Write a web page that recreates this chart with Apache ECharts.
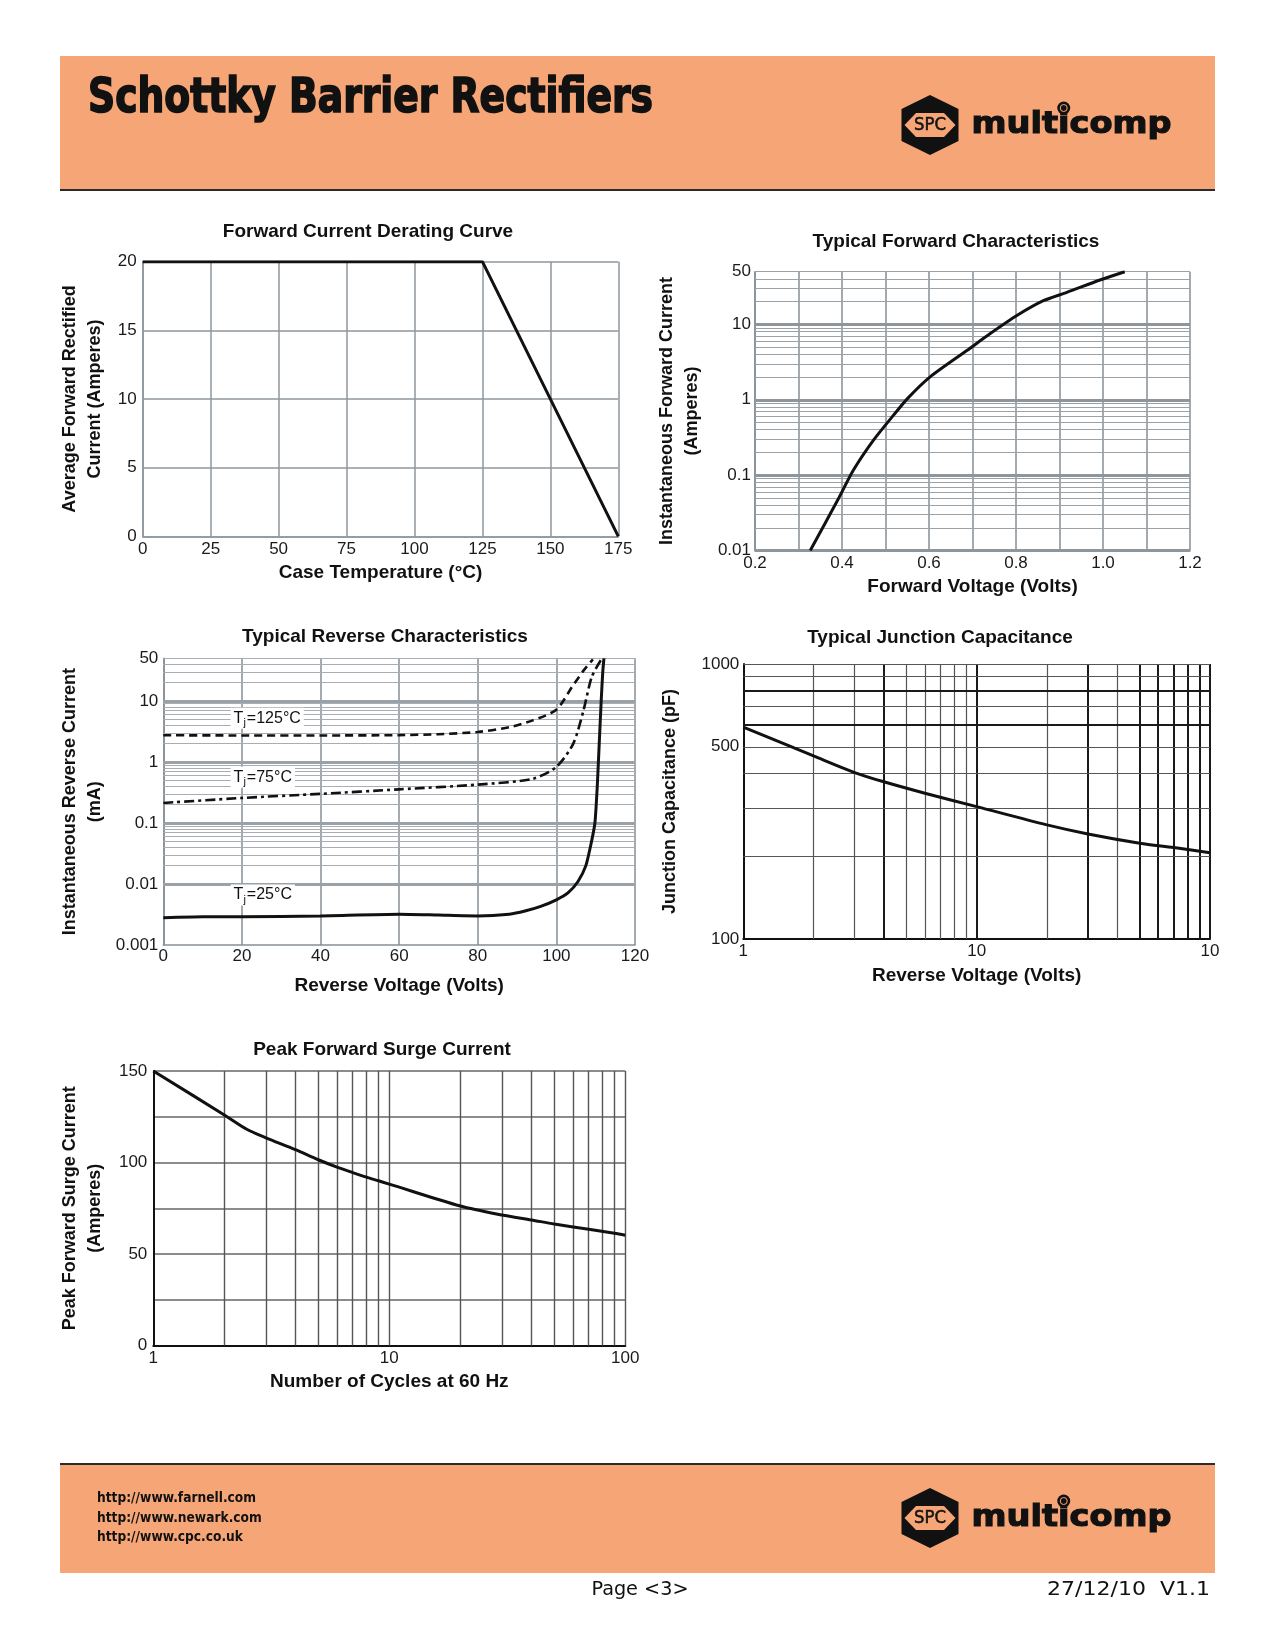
<!DOCTYPE html>
<html><head><meta charset="utf-8">
<script src="https://cdn.jsdelivr.net/npm/echarts@6/dist/echarts.min.js"></script>
<style>html,body{margin:0;padding:0;background:#fff}#c{width:1275px;height:1650px}</style>
</head><body><div id="c"></div>
<script>
// ---------- data ----------
const derateTemp = [0, 125, 175];
const derateAmps = [20, 20, 0];

const fwdVolts = [0.327, 0.392, 0.426, 0.472, 0.518, 0.552, 0.602, 0.687, 0.740, 0.802, 0.863, 0.917, 0.993, 1.05];
const fwdAmps  = [0.010, 0.049, 0.116, 0.289, 0.62, 1.06, 2.0, 4.5, 7.5, 13.1, 20.6, 26.6, 38.8, 50];

const rev125Volts = [0, 20, 40, 60, 70, 80, 88, 94, 100, 104, 107, 109.3];
const rev125mA    = [2.74, 2.72, 2.72, 2.75, 2.85, 3.1, 3.7, 4.8, 7.2, 17, 32, 48];
const rev75Volts  = [0, 20, 40, 60, 80, 94, 100, 104.3, 106.9, 109, 111.6];
const rev75mA     = [0.213, 0.257, 0.30, 0.356, 0.425, 0.53, 0.83, 2.0, 7.0, 24.8, 50];
const rev25Volts  = [0, 10, 20, 40, 60, 70, 80, 88, 92, 96, 100, 103, 105.5, 107.5, 108.8, 109.8, 110.4, 110.9, 111.4, 111.8, 112.1];
const rev25mA     = [0.0028, 0.0029, 0.0029, 0.003, 0.0032, 0.0031, 0.003, 0.0032, 0.0036, 0.0043, 0.0055, 0.0072, 0.011, 0.02, 0.045, 0.1, 0.4, 2, 10, 30, 50];

const capVolts = [1, 2, 3, 4, 6, 10, 20, 30, 50, 70, 100];
const capPF    = [590, 463, 403, 373, 339, 303, 260, 241, 223, 215, 206];

const surgeCycles = [1, 2, 2.5, 3, 4, 5, 6, 7, 8, 9, 10, 20, 30, 40, 50, 70, 90, 100];
const surgeAmps   = [150, 126, 118, 113.5, 107, 101.5, 97.5, 94.5, 92, 90, 88.2, 76.2, 71.3, 68.6, 66.4, 63.5, 61.3, 60.2];

// tick labels
const fwdVoltLabels = [0.2, 0.4, 0.6, 0.8, 1.0, 1.2];
const fwdAmpLabels = [0.01, 0.1, 1, 10, 50];
const revmALabels = [0.001, 0.01, 0.1, 1, 10, 50];
const capVoltLabels = [1, 10, 100];
const capPFLabels = [100, 500, 1000];
const surgeCycleLabels = [1, 10, 100];
const surgeAmpLabels = [0, 50, 100, 150];

// log-paper grid lines
const fwdGridMinor = [0.02,0.03,0.04,0.05,0.06,0.07,0.08,0.09,0.2,0.3,0.4,0.5,0.6,0.7,0.8,0.9,2,3,4,5,6,7,8,9,20,30,40,50];
const fwdGridDecade = [0.01, 0.1, 1, 10];
const revGridMinor = [0.002,0.003,0.004,0.005,0.006,0.007,0.008,0.009,0.02,0.03,0.04,0.05,0.06,0.07,0.08,0.09,0.2,0.3,0.4,0.5,0.6,0.7,0.8,0.9,2,3,4,5,6,7,8,9,20,30,40,50];
const revGridDecade = [0.001, 0.01, 0.1, 1, 10];
const capGridXThin = [2, 3, 5, 6, 7, 8, 9, 20, 40];
const capGridXThick = [4, 10, 30, 50, 60, 70, 80, 90, 100];
const capGridYThin = [200, 300, 400, 500, 700, 900, 1000];
const capGridYThick = [600, 800];
const surgeGridX = [2,3,4,5,6,7,8,9,10,20,30,40,50,60,70,80,90,100];

// ---------- helpers ----------
const FF = "'Liberation Sans', Arial, sans-serif";
const NARROW = "'Liberation Sans Narrow', 'DejaVu Sans Condensed', 'Liberation Sans', sans-serif";
const mctx = document.createElement('canvas').getContext('2d');
function fit(text, font, w) { mctx.font = font; return w / mctx.measureText(text).width; }
const fmt = v => String(parseFloat(Number(v).toPrecision(4)));
const pairs = (xs, ys) => xs.map((x, i) => [x, ys[i]]);

const labelFont = { color: '#1a1a1a', fontFamily: FF, fontSize: 17 };
const nameFont = { color: '#111', fontFamily: FF, fontSize: 19, fontWeight: 'bold' };
const yNameFont = { color: '#111', fontFamily: FF, fontSize: 18, fontWeight: 'bold', lineHeight: 25 };
const G1 = '#8d969e', G2 = '#858e96';

function gridSeries(gi, axis, values, style) {
  return {
    type: 'line', xAxisIndex: gi, yAxisIndex: gi, data: [], silent: true, z: 1,
    markLine: {
      silent: true, symbol: ['none', 'none'], label: { show: false }, animation: false,
      lineStyle: Object.assign({ type: 'solid' }, style),
      emphasis: { disabled: true },
      data: values.map(v => ({ [axis]: v }))
    }
  };
}
function curve(gi, data, extra) {
  return Object.assign({
    type: 'line', xAxisIndex: gi, yAxisIndex: gi, data: data, showSymbol: false, symbol: 'none',
    silent: true, z: 5, lineStyle: { color: '#111', width: 3 }
  }, extra || {});
}
function tjLabel(txt, coord) {
  return {
    symbol: 'circle', symbolSize: 1, itemStyle: { color: 'rgba(0,0,0,0)' }, silent: true,
    label: {
      show: true, position: 'right', distance: 0, backgroundColor: '#fff', padding: [0, 3],
      formatter: '{t|T}{s|j}{t|=' + txt + '}',
      rich: {
        t: { fontSize: 16, color: '#111', fontFamily: FF },
        s: { fontSize: 11, color: '#111', fontFamily: FF, padding: [10, 1, 0, 0] }
      }
    },
    data: [{ coord: coord }]
  };
}

// ---------- page decoration (graphic) ----------
const PEACH = '#F6A676';
function logo(dy) {
  const els = [];
  els.push({ type: 'polygon', shape: { points: [[930, 95+dy], [958.5, 109+dy], [958.5, 141+dy], [930, 155+dy], [901.5, 141+dy], [901.5, 109+dy]] }, style: { fill: '#111' } });
  els.push({ type: 'polygon', shape: { points: [[904.5, 125+dy], [916, 113+dy], [944, 113+dy], [955.5, 125+dy], [944, 137+dy], [916, 137+dy]] }, style: { fill: PEACH } });
  const spcFont = "18px " + NARROW;
  els.push({ type: 'text', x: 930, y: 125+dy, scaleX: fit('SPC', spcFont, 32), style: { text: 'SPC', font: spcFont, fill: '#111', stroke: '#111', lineWidth: 0.5, textAlign: 'center', textVerticalAlign: 'middle' } });
  const mFont = "bold 31px 'DejaVu Sans', sans-serif";
  const s = fit('multicomp', mFont, 200);
  els.push({ type: 'text', x: 971.5, y: 125+dy, scaleX: s, style: { text: 'multicomp', font: mFont, fill: '#111', stroke: '#111', lineWidth: 1.2, textAlign: 'left', textVerticalAlign: 'middle' } });
  mctx.font = mFont;
  const ix = 971.5 + (mctx.measureText('mult').width + mctx.measureText('i').width / 2) * s;
  els.push({ type: 'circle', shape: { cx: ix, cy: 108+dy, r: 6.5 }, style: { fill: '#111' } });
  els.push({ type: 'circle', shape: { cx: ix, cy: 108+dy, r: 3.5 }, style: { fill: 'none', stroke: PEACH, lineWidth: 1 } });
  return els;
}
const titleFont = "bold 48px " + NARROW;
const linkFont = "bold 14px " + NARROW;
const linkScale = fit('http://www.farnell.com', linkFont, 159);
const pageFont = "20px " + NARROW;
const graphics = [
  { type: 'rect', shape: { x: 60, y: 56, width: 1155, height: 134 }, style: { fill: PEACH }, z: -10 },
  { type: 'line', shape: { x1: 60, y1: 190, x2: 1215, y2: 190 }, style: { stroke: '#2b2b2b', lineWidth: 2 } },
  { type: 'text', x: 88, y: 100, scaleX: fit('Schottky Barrier Rectifiers', titleFont, 565),
    style: { text: 'Schottky Barrier Rectifiers', font: titleFont, fill: '#111', stroke: '#111', lineWidth: 1.6, textAlign: 'left', textVerticalAlign: 'middle' } },
  { type: 'rect', shape: { x: 60, y: 1465, width: 1155, height: 108 }, style: { fill: PEACH }, z: -10 },
  { type: 'line', shape: { x1: 60, y1: 1464, x2: 1215, y2: 1464 }, style: { stroke: '#2b2b2b', lineWidth: 2 } },
  { type: 'text', x: 97, y: 1498, scaleX: linkScale, style: { text: 'http://www.farnell.com', font: linkFont, fill: '#111', textAlign: 'left', textVerticalAlign: 'middle' } },
  { type: 'text', x: 97, y: 1518, scaleX: linkScale, style: { text: 'http://www.newark.com', font: linkFont, fill: '#111', textAlign: 'left', textVerticalAlign: 'middle' } },
  { type: 'text', x: 97, y: 1537, scaleX: linkScale, style: { text: 'http://www.cpc.co.uk', font: linkFont, fill: '#111', textAlign: 'left', textVerticalAlign: 'middle' } },
  { type: 'text', x: 640, y: 1590, scaleX: fit('Page <3>', pageFont, 97), style: { text: 'Page <3>', font: pageFont, fill: '#111', textAlign: 'center', textVerticalAlign: 'middle' } },
  { type: 'text', x: 1210, y: 1590, scaleX: fit('27/12/10  V1.1', pageFont, 163), style: { text: '27/12/10  V1.1', font: pageFont, fill: '#111', textAlign: 'right', textVerticalAlign: 'middle' } }
].concat(logo(0), logo(1393));

// ---------- chart option ----------
const titleStyle = { fontSize: 19, fontWeight: 'bold', fontFamily: FF, color: '#111' };
const mkTitle = (text, x, y) => ({ text: text, left: x, top: y, textAlign: 'center', padding: 0, textStyle: titleStyle });

const option = {
  animation: false,
  backgroundColor: '#fff',
  textStyle: { fontFamily: FF },
  title: [
    mkTitle('Forward Current Derating Curve', 368, 222),
    mkTitle('Typical Forward Characteristics', 956, 232),
    mkTitle('Typical Reverse Characteristics', 385, 627),
    mkTitle('Typical Junction Capacitance', 940, 628),
    mkTitle('Peak Forward Surge Current', 382, 1040)
  ],
  grid: [
    { left: 142.7, top: 261.7, width: 475.6, height: 274.6 },
    { left: 755, top: 271.7, width: 435, height: 278.8 },
    { left: 163.3, top: 658.3, width: 471.7, height: 286.7 },
    { left: 743.3, top: 664, width: 466.7, height: 275 },
    { left: 153.3, top: 1071, width: 472, height: 274.5 }
  ],
  xAxis: [
    { gridIndex: 0, type: 'value', min: 0, max: 175, interval: 25,
      axisLine: { lineStyle: { color: G1, width: 1.5 } }, axisTick: { show: false },
      axisLabel: Object.assign({ margin: 5 }, labelFont),
      splitLine: { lineStyle: { color: G1, width: 1.5 } },
      name: 'Case Temperature (°C)', nameLocation: 'middle', nameGap: 27, nameTextStyle: nameFont },
    { gridIndex: 1, type: 'value', min: 0.2, max: 1.2, interval: 0.1,
      axisLine: { lineStyle: { color: G2, width: 1.5 } }, axisTick: { show: false },
      axisLabel: Object.assign({ margin: 4, customValues: fwdVoltLabels, formatter: v => Number(v).toFixed(1) }, labelFont),
      splitLine: { lineStyle: { color: G2, width: 1.5 } },
      name: 'Forward Voltage (Volts)', nameLocation: 'middle', nameGap: 27, nameTextStyle: nameFont },
    { gridIndex: 2, type: 'value', min: 0, max: 120, interval: 20,
      axisLine: { lineStyle: { color: G2, width: 1.5 } }, axisTick: { show: false },
      axisLabel: Object.assign({ margin: 3 }, labelFont),
      splitLine: { lineStyle: { color: G2, width: 1.5 } },
      name: 'Reverse Voltage (Volts)', nameLocation: 'middle', nameGap: 31, nameTextStyle: nameFont },
    { gridIndex: 3, type: 'log', logBase: 10, min: 1, max: 100,
      axisLine: { lineStyle: { color: '#111', width: 2 } }, axisTick: { show: false },
      axisLabel: Object.assign({ margin: 4, customValues: capVoltLabels, formatter: v => (v >= 100 ? '10' : fmt(v)) }, labelFont),
      splitLine: { show: false },
      name: 'Reverse Voltage (Volts)', nameLocation: 'middle', nameGap: 27, nameTextStyle: nameFont },
    { gridIndex: 4, type: 'log', logBase: 10, min: 1, max: 100,
      axisLine: { lineStyle: { color: '#111', width: 2 } }, axisTick: { show: false },
      axisLabel: Object.assign({ margin: 4, customValues: surgeCycleLabels, formatter: fmt }, labelFont),
      splitLine: { show: false },
      name: 'Number of Cycles at 60 Hz', nameLocation: 'middle', nameGap: 27, nameTextStyle: nameFont }
  ],
  yAxis: [
    { gridIndex: 0, type: 'value', min: 0, max: 20, interval: 5,
      axisLine: { lineStyle: { color: G1, width: 1.5 } }, axisTick: { show: false },
      axisLabel: Object.assign({ margin: 6 }, labelFont),
      splitLine: { lineStyle: { color: G1, width: 1.5 } },
      name: 'Average Forward Rectified\nCurrent (Amperes)', nameLocation: 'middle', nameGap: 35, nameTextStyle: yNameFont },
    { gridIndex: 1, type: 'log', logBase: 10, min: 0.01, max: 50,
      axisLine: { lineStyle: { color: G2, width: 1.5 } }, axisTick: { show: false },
      axisLabel: Object.assign({ margin: 4, customValues: fwdAmpLabels, formatter: fmt }, labelFont),
      splitLine: { show: false },
      name: 'Instantaneous Forward Current\n(Amperes)', nameLocation: 'middle', nameGap: 50, nameTextStyle: yNameFont },
    { gridIndex: 2, type: 'log', logBase: 10, min: 0.001, max: 50,
      axisLine: { lineStyle: { color: G2, width: 1.5 } }, axisTick: { show: false },
      axisLabel: Object.assign({ margin: 5, customValues: revmALabels, formatter: fmt }, labelFont),
      splitLine: { show: false },
      name: 'Instantaneous Reverse Current\n(mA)', nameLocation: 'middle', nameGap: 56, nameTextStyle: yNameFont },
    { gridIndex: 3, type: 'log', logBase: 10, min: 100, max: 1000,
      axisLine: { lineStyle: { color: '#111', width: 2 } }, axisTick: { show: false },
      axisLabel: Object.assign({ margin: 4, customValues: capPFLabels, formatter: fmt }, labelFont),
      splitLine: { show: false },
      name: 'Junction Capacitance (pF)', nameLocation: 'middle', nameGap: 61, nameTextStyle: yNameFont },
    { gridIndex: 4, type: 'value', min: 0, max: 150, interval: 25,
      axisLine: { lineStyle: { color: '#111', width: 2 } }, axisTick: { show: false },
      axisLabel: Object.assign({ margin: 6, customValues: surgeAmpLabels }, labelFont),
      splitLine: { lineStyle: { color: '#666', width: 1.5 } },
      name: 'Peak Forward Surge Current\n(Amperes)', nameLocation: 'middle', nameGap: 46, nameTextStyle: yNameFont }
  ],
  series: [
    // grid lines
    gridSeries(1, 'yAxis', fwdGridMinor, { color: '#9aa1a7', width: 1.2 }),
    gridSeries(1, 'yAxis', fwdGridDecade, { color: '#8e959b', width: 3 }),
    gridSeries(2, 'yAxis', revGridMinor, { color: '#a7adb2', width: 1.2 }),
    gridSeries(2, 'yAxis', revGridDecade, { color: '#9aa1a7', width: 3 }),
    gridSeries(3, 'xAxis', capGridXThin, { color: '#555', width: 1.2 }),
    gridSeries(3, 'xAxis', capGridXThick, { color: '#1a1a1a', width: 2 }),
    gridSeries(3, 'yAxis', capGridYThin, { color: '#555', width: 1.2 }),
    gridSeries(3, 'yAxis', capGridYThick, { color: '#1a1a1a', width: 2 }),
    gridSeries(4, 'xAxis', surgeGridX, { color: '#555', width: 1.4 }),
    // curves
    curve(0, pairs(derateTemp, derateAmps)),
    curve(1, pairs(fwdVolts, fwdAmps), { smooth: 0.25 }),
    curve(2, pairs(rev125Volts, rev125mA), { smooth: 0.25, lineStyle: { color: '#111', width: 2.6, type: [8, 5] }, markPoint: tjLabel('125°C', [17, 5.2]) }),
    curve(2, pairs(rev75Volts, rev75mA), { smooth: 0.25, lineStyle: { color: '#111', width: 2.6, type: [10, 4, 3, 4] }, markPoint: tjLabel('75°C', [17, 0.56]) }),
    curve(2, pairs(rev25Volts, rev25mA), { smooth: 0.2, markPoint: tjLabel('25°C', [17, 0.0066]) }),
    curve(3, pairs(capVolts, capPF), { smooth: 0.3 }),
    curve(4, pairs(surgeCycles, surgeAmps), { smooth: 0.3 })
  ],
  graphic: { elements: graphics }
};

const chart = echarts.init(document.getElementById('c'), null, { renderer: 'canvas' });
chart.setOption(option);
</script>
</body></html>
